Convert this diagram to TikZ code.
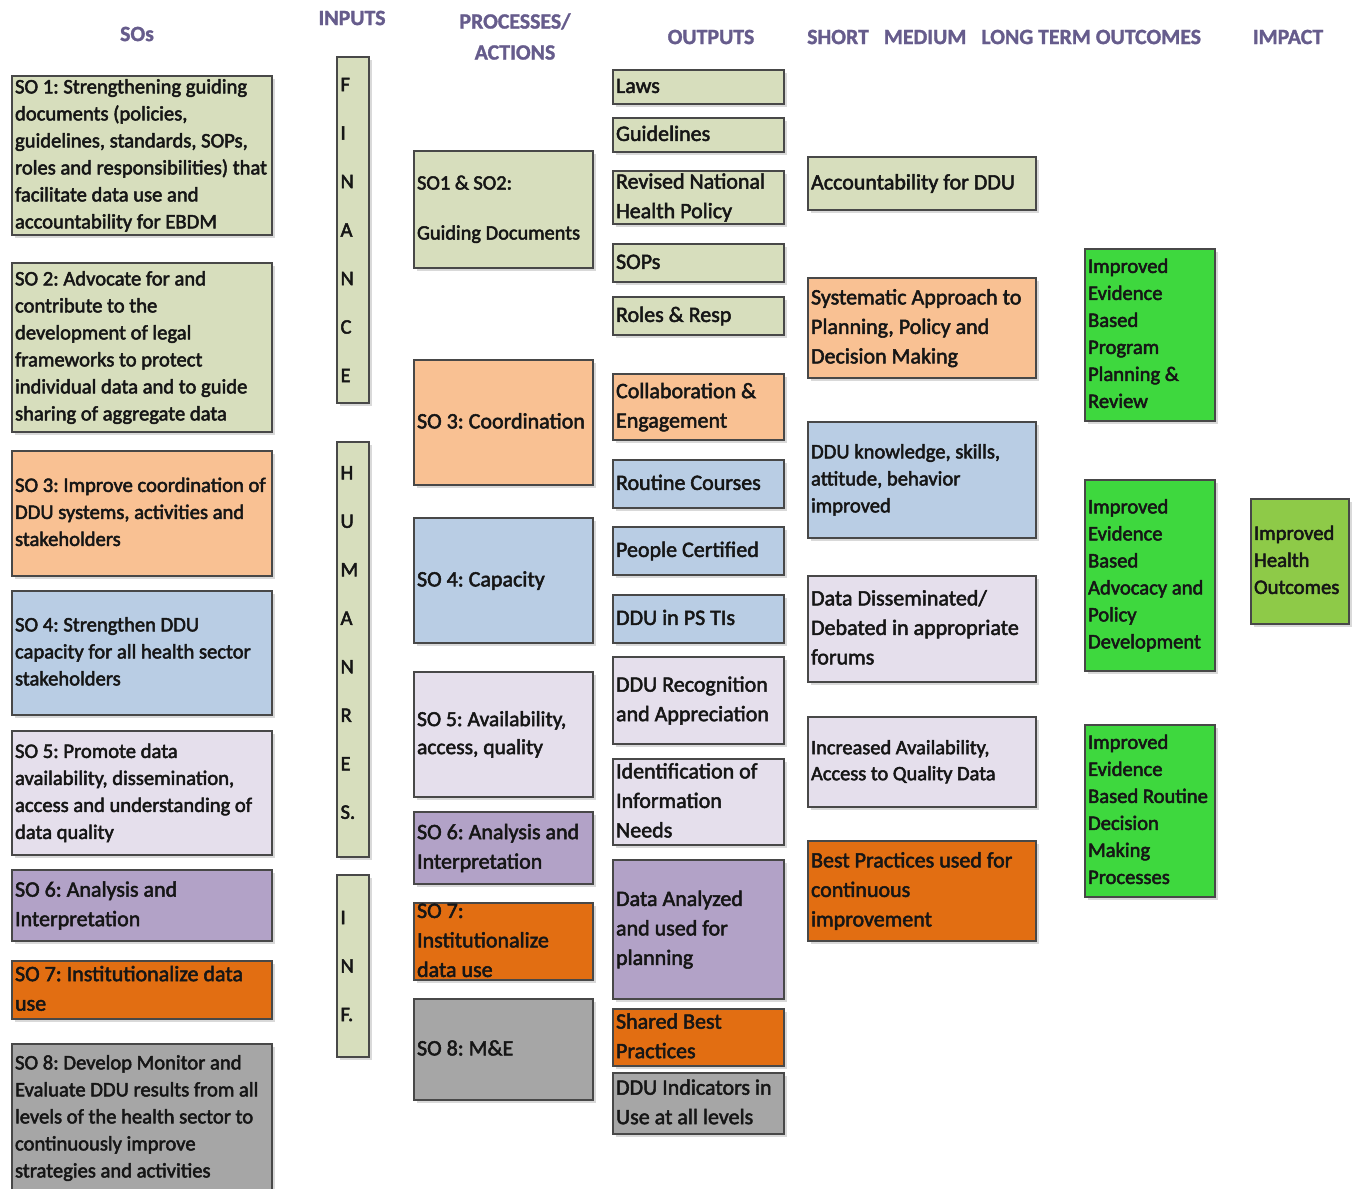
\documentclass[tikz,border=0pt]{standalone}
\usepackage{fontspec}
\setmainfont{Carlito}
\usetikzlibrary{shadows}
\frenchspacing
\definecolor{cOlive}{RGB}{215,222,189}
\definecolor{cPeach}{RGB}{249,193,147}
\definecolor{cBlue}{RGB}{185,205,228}
\definecolor{cLav}{RGB}{229,223,236}
\definecolor{cPurp}{RGB}{178,162,199}
\definecolor{cOrange}{RGB}{226,110,18}
\definecolor{cGrey}{RGB}{166,166,166}
\definecolor{cGreen}{RGB}{62,216,62}
\definecolor{cImpact}{RGB}{142,202,72}
\definecolor{cBorder}{RGB}{72,72,72}
\definecolor{cText}{RGB}{22,22,22}
\definecolor{cHead}{RGB}{102,92,140}
\newcommand{\thk}{\special{pdf:literal direct 2 Tr 0.5 w}}
\newcommand{\thkh}{\special{pdf:literal direct 2 Tr 0.3 w}}
\newcommand{\fsa}{\fontsize{20.6}{27}\selectfont\thk}
\newcommand{\fsb}{\fontsize{22}{29.5}\selectfont\thk}
\newcommand{\fsc}{\fontsize{20.4}{25}\selectfont\thk}
\newcommand{\fsd}{\fontsize{20.4}{26}\selectfont\thk}
\newcommand{\fse}{\fontsize{21.5}{28}\selectfont\thk}
\newcommand{\fsl}{\fontsize{20.6}{48.5}\selectfont\thk}
\tikzset{
  box/.style={draw=cBorder, line width=1.3pt, inner sep=0pt,
    drop shadow={shadow xshift=2.5pt, shadow yshift=-2.5pt, fill=black, opacity=0.15}},
  txt/.style={inner sep=0pt, align=left, text=cText},
  hdr/.style={inner sep=0pt, align=center, text=cHead, font=\bfseries\fontsize{21.8}{31}\selectfont\thkh}
}
% name, fill, x1, y1, x2, y2, font, text
\newcommand{\bx}[8]{%
  \node[box, fill=#2, minimum width={(#5-#3)*1pt}, minimum height={(#6-#4)*1pt}] (#1) at ({(#3+#5)/2},{(#4+#6)/2}) {};
  \node[txt, font=#7, anchor=west] (#1t) at ([xshift=3.5pt]#1.west) {\strut #8\strut};}
\begin{document}
\begin{tikzpicture}[x=1pt,y=-1pt]
\fill[white] (0,0) rectangle (1358,1189);
\useasboundingbox (0,0) rectangle (1358,1189);
% headers
\node[hdr] (hSO) at (137,34) {SOs};
\node[hdr] (hIn) at (352,18) {INPUTS};
\node[hdr] (hPr) at (515,36.5) {PROCESSES/\\ACTIONS};
\node[hdr] (hOut) at (711,37) {OUTPUTS};
\node[hdr, anchor=west] (hOc) at (807,37) {SHORT\hspace{15pt}MEDIUM\hspace{15pt}LONG TERM OUTCOMES};
\node[hdr] (hIm) at (1288,37) {IMPACT};
% SOs
\bx{so1}{cOlive}{12}{76}{272}{235}{\fsa}{SO 1: Strengthening guiding\\documents (policies,\\guidelines, standards, SOPs,\\roles and responsibilities) that\\facilitate data use and\\accountability for EBDM}
\bx{so2}{cOlive}{12}{263}{272}{432}{\fsa}{SO 2: Advocate for and\\contribute to the\\development of legal\\frameworks to protect\\individual data and to guide\\sharing of aggregate data}
\bx{so3}{cPeach}{12}{451}{272}{576}{\fsa}{SO 3: Improve coordination of\\DDU systems, activities and\\stakeholders}
\bx{so4}{cBlue}{12}{591}{272}{715}{\fsa}{SO 4: Strengthen DDU\\capacity for all health sector\\stakeholders}
\bx{so5}{cLav}{12}{731}{272}{855}{\fsa}{SO 5: Promote data\\availability, dissemination,\\access and understanding of\\data quality}
\bx{so6}{cPurp}{12}{870}{272}{941}{\fsb}{SO 6: Analysis and\\Interpretation}
\bx{so7}{cOrange}{12}{961}{272}{1019}{\fsb}{SO 7: Institutionalize data\\use}
\bx{so8}{cGrey}{12}{1044}{272}{1192}{\fsa}{SO 8: Develop Monitor and\\Evaluate DDU results from all\\levels of the health sector to\\continuously improve\\strategies and activities}
% inputs
\node[box, fill=cOlive, minimum width=32pt, minimum height=346pt] (fin) at (353,230) {};
\node[txt, font=\fsl, anchor=west] (fint) at ([xshift=4pt]fin.west) {F\\I\\N\\A\\N\\C\\E};
\node[box, fill=cOlive, minimum width=32pt, minimum height=415pt] (hr) at (353,649.5) {};
\node[txt, font=\fsl, anchor=west] (hrt) at ([xshift=4pt,yshift=7pt]hr.west) {H\\U\\M\\A\\N\\R\\E\\S.};
\node[box, fill=cOlive, minimum width=32pt, minimum height=182pt] (inf) at (353,966) {};
\node[txt, font=\fsl, anchor=west] (inft) at ([xshift=4pt]inf.west) {I\\N\\F.};
% processes
\bx{p12}{cOlive}{414}{151}{593}{268}{\fsc}{SO1 \& SO2:\\[25pt]Guiding Documents}
\bx{p3}{cPeach}{414}{360}{593}{485}{\fsb}{SO 3: Coordination}
\bx{p4}{cBlue}{414}{518}{593}{643}{\fsb}{SO 4: Capacity}
\bx{p5}{cLav}{414}{672}{593}{797}{\fse}{SO 5: Availability,\\access, quality}
\bx{p6}{cPurp}{414}{812}{593}{884}{\fsb}{SO 6: Analysis and\\Interpretation}
\bx{p7}{cOrange}{414}{903}{593}{980}{\fsb}{SO 7:\\Institutionalize\\data use}
\bx{p8}{cGrey}{414}{999}{593}{1100}{\fsb}{SO 8: M\&E}
% outputs
\bx{o1}{cOlive}{613}{70}{784}{104}{\fsb}{Laws}
\bx{o2}{cOlive}{613}{118}{784}{152}{\fsb}{Guidelines}
\bx{o3}{cOlive}{613}{171}{784}{224}{\fsb}{Revised National\\Health Policy}
\bx{o4}{cOlive}{613}{244}{784}{282}{\fsb}{SOPs}
\bx{o5}{cOlive}{613}{297}{784}{335}{\fsb}{Roles \& Resp}
\bx{o6}{cPeach}{613}{374}{784}{440}{\fsb}{Collaboration \&\\Engagement}
\bx{o7}{cBlue}{613}{460}{784}{508}{\fsb}{Routine Courses}
\bx{o8}{cBlue}{613}{527}{784}{575}{\fsb}{People Certified}
\bx{o9}{cBlue}{613}{595}{784}{643}{\fsb}{DDU in PS TIs}
\bx{o10}{cLav}{613}{657}{784}{744}{\fsb}{DDU Recognition\\and Appreciation}
\bx{o11}{cLav}{613}{759}{784}{845}{\fsb}{Identification of\\Information\\Needs}
\bx{o12}{cPurp}{613}{860}{784}{999}{\fsb}{Data Analyzed\\and used for\\planning}
\bx{o13}{cOrange}{613}{1009}{784}{1066}{\fsb}{Shared Best\\Practices}
\bx{o14}{cGrey}{613}{1073}{784}{1134}{\fsb}{DDU Indicators in\\Use at all levels}
% short outcomes
\bx{s1}{cOlive}{808}{157}{1036}{210}{\fsb}{Accountability for DDU}
\bx{s2}{cPeach}{808}{278}{1036}{378}{\fsb}{Systematic Approach to\\Planning, Policy and\\Decision Making}
\bx{s3}{cBlue}{808}{422}{1036}{538}{\fsa}{DDU knowledge, skills,\\attitude, behavior\\improved}
\bx{s4}{cLav}{808}{576}{1036}{682}{\fsb}{Data Disseminated/\\Debated in appropriate\\forums}
\bx{s5}{cLav}{808}{717}{1036}{807}{\fsd}{Increased Availability,\\Access to Quality Data}
\bx{s6}{cOrange}{808}{841}{1036}{941}{\fsb}{Best Practices used for\\continuous\\improvement}
% long term outcomes
\bx{l1}{cGreen}{1085}{249}{1215}{421}{\fsa}{Improved\\Evidence\\Based\\Program\\Planning \&\\Review}
\bx{l2}{cGreen}{1085}{480}{1215}{671}{\fsa}{Improved\\Evidence\\Based\\Advocacy and\\Policy\\Development}
\bx{l3}{cGreen}{1085}{725}{1215}{897}{\fsa}{Improved\\Evidence\\Based Routine\\Decision\\Making\\Processes}
% impact
\bx{imp}{cImpact}{1251}{499}{1349}{624}{\fsa}{Improved\\Health\\Outcomes}
\end{tikzpicture}
\end{document}
